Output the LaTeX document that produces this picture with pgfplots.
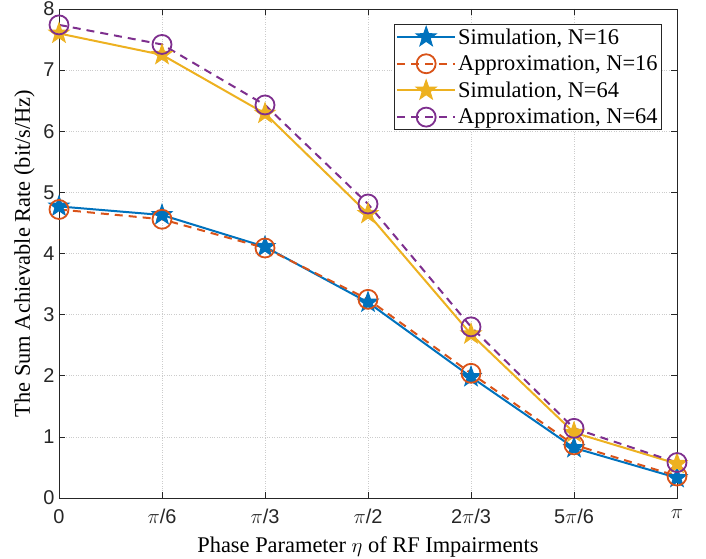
\documentclass[border=0pt]{standalone}
\usepackage{fontspec}
\setmainfont{Liberation Serif}
\setsansfont{Liberation Sans}
\usepackage{pgfplots}
\pgfplotsset{compat=1.18}
\definecolor{mblue}{rgb}{0,0.447,0.741}
\definecolor{morange}{rgb}{0.85,0.325,0.098}
\definecolor{myellow}{rgb}{0.929,0.694,0.125}
\definecolor{mpurple}{rgb}{0.494,0.184,0.556}
\definecolor{axgray}{rgb}{0.15,0.15,0.15}
\pgfdeclareplotmark{pstar}{%
  \pgfpathmoveto{\pgfpointpolar{90}{\pgfplotmarksize}}%
  \pgfpathlineto{\pgfpointpolar{126}{0.4\pgfplotmarksize}}%
  \pgfpathlineto{\pgfpointpolar{162}{\pgfplotmarksize}}%
  \pgfpathlineto{\pgfpointpolar{198}{0.4\pgfplotmarksize}}%
  \pgfpathlineto{\pgfpointpolar{234}{\pgfplotmarksize}}%
  \pgfpathlineto{\pgfpointpolar{270}{0.4\pgfplotmarksize}}%
  \pgfpathlineto{\pgfpointpolar{306}{\pgfplotmarksize}}%
  \pgfpathlineto{\pgfpointpolar{342}{0.4\pgfplotmarksize}}%
  \pgfpathlineto{\pgfpointpolar{18}{\pgfplotmarksize}}%
  \pgfpathlineto{\pgfpointpolar{54}{0.4\pgfplotmarksize}}%
  \pgfpathclose
  \pgfusepathqfillstroke}
\begin{document}
\begin{tikzpicture}
\begin{axis}[
  scale only axis,
  width=618bp, height=489bp,
  at={(0,0)}, anchor=south west,
  xmin=0, xmax=6, ymin=0, ymax=8,
  xtick={0,1,2,3,4,5,6},
  xticklabels={0,$\pi$/6,$\pi$/3,$\pi$/2,2$\pi$/3,5$\pi$/6,$\pi$},
  ytick={0,1,2,3,4,5,6,7,8},
  tick align=inside,
  tick pos=both,
  major tick length=6bp,
  every tick/.style={axgray, line width=0.6bp},
  axis line style={axgray, line width=0.8bp},
  grid=major,
  major grid style={dotted, gray!40, line width=0.6bp},
  /pgf/number format/assume math mode=true,
  tick label style={font=\sffamily\fontsize{20}{20}\selectfont, text=axgray},
  xticklabel style={yshift=-8bp},
  yticklabel style={xshift=-1bp},
  label style={font=\fontsize{22.5}{24}\selectfont},
  xlabel={Phase Parameter $\eta$ of RF Impairments},
  ylabel={The Sum Achievable Rate (bit/s/Hz)},
  xlabel style={yshift=-6bp},
  ylabel style={yshift=2bp},
  legend style={at={(0.9757,0.969)}, anchor=north east,
    font=\fontsize{22.5}{26}\selectfont, draw=axgray, line width=0.8bp,
    inner sep=2bp, row sep=6bp, cells={anchor=west}},
  legend cell align=left,
  legend image code/.code={%
    \draw[mark repeat=2,mark phase=2] plot coordinates {(0bp,0bp) (29bp,0bp) (58bp,0bp)};},
  every axis plot/.append style={line width=2bp},
  clip=false,
]
\addplot[mblue, solid, mark=pstar, mark size=10.5bp, mark options={solid, fill=mblue, line width=1bp}]
  coordinates {(0,4.77) (1,4.63) (2,4.11) (3,3.20) (4,1.98) (5,0.82) (6,0.33)};
\addlegendentry{Simulation, N=16}
\addplot[morange, dash pattern=on 8bp off 6bp, mark=o, mark size=9.5bp, mark options={solid, line width=1.8bp}]
  coordinates {(0,4.72) (1,4.56) (2,4.09) (3,3.25) (4,2.04) (5,0.87) (6,0.36)};
\addlegendentry{Approximation, N=16}
\addplot[myellow, solid, mark=pstar, mark size=10.5bp, mark options={solid, fill=myellow, line width=1bp}]
  coordinates {(0,7.60) (1,7.25) (2,6.29) (3,4.65) (4,2.68) (5,1.07) (6,0.56)};
\addlegendentry{Simulation, N=64}
\addplot[mpurple, dash pattern=on 8bp off 6bp, mark=o, mark size=9.5bp, mark options={solid, line width=1.8bp}]
  coordinates {(0,7.74) (1,7.42) (2,6.43) (3,4.81) (4,2.80) (5,1.14) (6,0.58)};
\addlegendentry{Approximation, N=64}
\end{axis}
\pgfresetboundingbox
\path[use as bounding box] (-59bp,-61bp) rectangle (647bp,498bp);
\end{tikzpicture}
\end{document}
